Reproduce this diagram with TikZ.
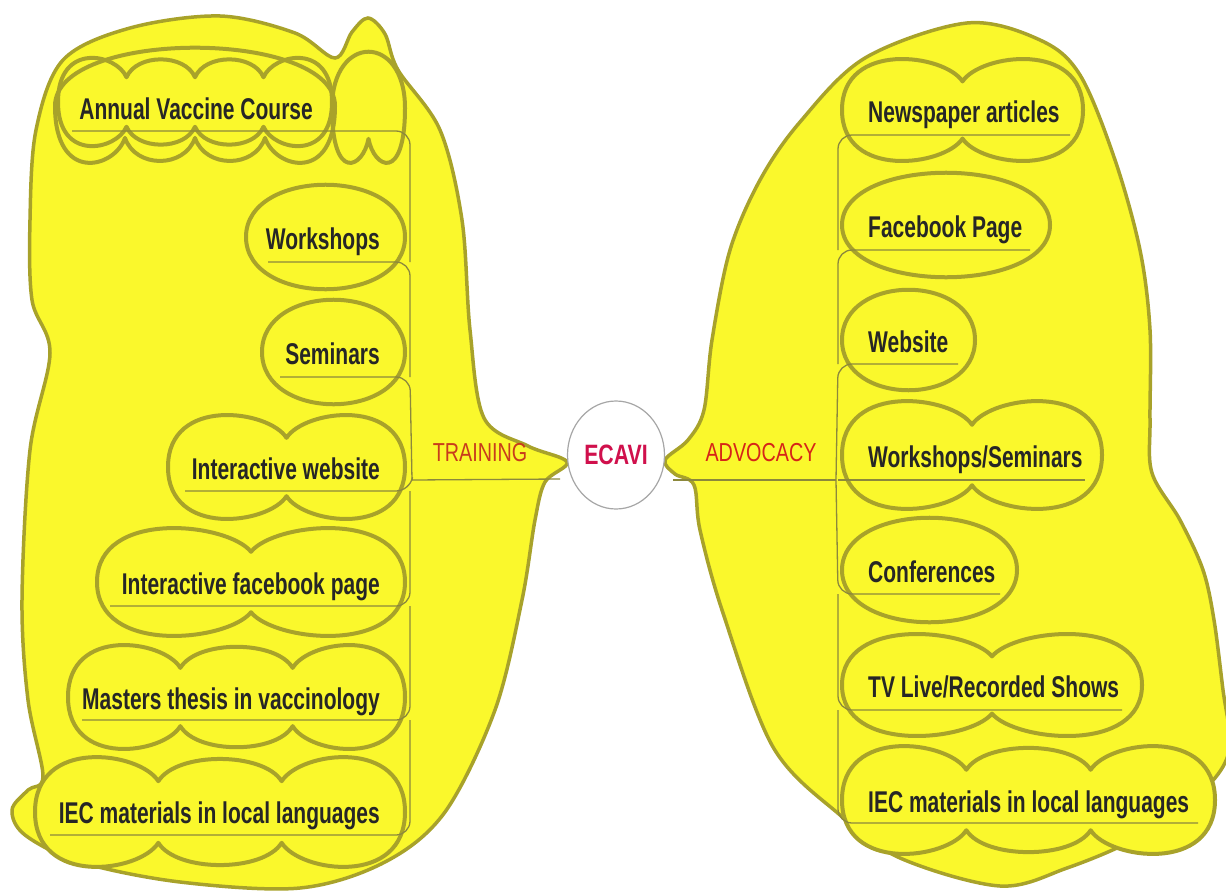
\documentclass[tikz,border=0pt]{standalone}
\usepackage{fontspec}
\usetikzlibrary{shapes.geometric}
\setmainfont{Liberation Sans}[FakeStretch=0.76]
\newfontfamily\itemfont{Liberation Sans Bold}[FakeStretch=0.70]
\definecolor{blobyellow}{HTML}{FAF82C}
\definecolor{cloudolive}{HTML}{A8A22A}
\definecolor{thinline}{HTML}{8C883C}
\definecolor{txt}{HTML}{262626}
\definecolor{trainred}{HTML}{C83C1C}
\definecolor{advred}{HTML}{D62418}
\definecolor{ecavired}{HTML}{D0104C}
\tikzset{
  blob/.style={fill=blobyellow, draw=cloudolive, line width=3.5pt},
  cloudline/.style={draw=cloudolive, line width=4pt, line join=round},
  cloudfill/.style={cloudline, fill=blobyellow},
  branchline/.style={draw=thinline, line width=1.3pt, rounded corners=14pt},
  itemtext/.style={font=\itemfont\fontsize{30}{34}\selectfont, text=txt, inner sep=0pt},
  headtext/.style={font=\fontsize{26}{30}\selectfont, inner sep=0pt},
  hubnode/.style={ellipse, draw=gray!70, line width=1.2pt, fill=white,
                  minimum width=97pt, minimum height=108pt,
                  font=\fontsize{28}{32}\selectfont\bfseries, text=ecavired, inner sep=0pt}
}
% cloud: style, x0, x1, yc, h, ntop, nbot
\newcommand\cloudp[7]{%
  \path[#1] (#2,#4)
    \foreach \i in {1,...,#6}{
      .. controls +({0.15*(#3-#2)/#6*(\i>1)},{-(0.53+0.81*(\i==1))*#5})
         and +({-0.15*(#3-#2)/#6*(\i<#6)},{-(0.53+0.81*(\i==#6))*#5})
      .. ({#2+\i*(#3-#2)/#6},{#4-0.55*#5*(\i<#6)})
    }
    \foreach \i in {1,...,#7}{
      .. controls +({-0.15*(#3-#2)/#7*(\i>1)},{(0.53+0.81*(\i==1))*#5})
         and +({0.15*(#3-#2)/#7*(\i<#7)},{(0.53+0.81*(\i==#7))*#5})
      .. ({#3-\i*(#3-#2)/#7},{#4+0.55*#5*(\i<#7)})
    } -- cycle;
}
\begin{document}
\begin{tikzpicture}[x=1pt,y=-1pt]
\useasboundingbox (0,0) rectangle (1226,894);
\begin{scope}
\clip (0,0) rectangle (1226,894);
% left blob
\draw[blob] plot[smooth cycle, tension=0.55] coordinates {
  (63,60) (130,28) (220,16) (295,33) (335,58) (352,32) (368,18) (385,34) (398,70)
  (440,130) (462,220) (470,330) (484,418) (528,446) (567,462) (545,482) (535,520)
  (522,600) (495,710) (445,812) (385,862) (300,888) (180,882) (80,862) (25,835)
  (12,810) (28,790) (43,776) (28,700) (22,600) (30,450) (50,353) (32,300) (30,220) (36,130)};
% right blob
\draw[blob] plot[smooth cycle, tension=0.55] coordinates {
  (665,460) (688,440) (704,410) (712,340) (730,250) (760,180) (800,122) (865,58)
  (967,23) (1040,40) (1080,75) (1115,160) (1140,250) (1150,330) (1150,420) (1152,473)
  (1180,520) (1203,570) (1214,620) (1223,690) (1230,745) (1215,778) (1180,806)
  (1133,840) (1067,868) (1000,886) (900,858) (840,815) (773,747) (723,613) (700,530)
  (694,485) (675,474)};
\end{scope}

% ---- left clouds
\cloudp{cloudline}{58}{332}{102}{45}{4}{4}
\cloudp{cloudline}{55}{335}{106}{58}{1}{4}
\cloudp{cloudline}{332}{405}{108}{56}{1}{2}
\cloudp{cloudfill}{246}{405}{237}{52}{1}{1}
\cloudp{cloudfill}{262}{405}{352}{52}{1}{1}
\cloudp{cloudfill}{168}{405}{467}{53}{2}{2}
\cloudp{cloudfill}{97}{405}{582}{55}{2}{2}
\cloudp{cloudfill}{68}{405}{697}{53}{3}{3}
\cloudp{cloudfill}{35}{405}{812}{56}{3}{3}
% ---- right clouds
\cloudp{cloudfill}{842}{1083}{110}{52}{2}{2}
\cloudp{cloudfill}{842}{1050}{225}{52}{1}{1}
\cloudp{cloudfill}{842}{975}{340}{50}{1}{1}
\cloudp{cloudfill}{842}{1102}{455}{55}{2}{2}
\cloudp{cloudfill}{842}{1017}{570}{52}{1}{1}
\cloudp{cloudfill}{842}{1142}{685}{52}{2}{2}
\cloudp{cloudfill}{842}{1215}{800}{55}{3}{3}

% ---- left texts
\node[itemtext, anchor=base east] (L1) at (313,119) {Annual Vaccine Course};
\node[itemtext, anchor=base east] (L2) at (380,249) {Workshops};
\node[itemtext, anchor=base east] (L3) at (380,364) {Seminars};
\node[itemtext, anchor=base east] (L4) at (380,479) {Interactive website};
\node[itemtext, anchor=base east] (L5) at (380,594) {Interactive facebook page};
\node[itemtext, anchor=base east] (L6) at (380,709) {Masters thesis in vaccinology};
\node[itemtext, anchor=base east] (L7) at (380,823) {IEC materials in local languages};
% ---- right texts
\node[itemtext, anchor=base west] (R1) at (868,122) {Newspaper articles};
\node[itemtext, anchor=base west] (R2) at (868,237) {Facebook Page};
\node[itemtext, anchor=base west] (R3) at (868,352) {Website};
\node[itemtext, anchor=base west] (R4) at (868,467) {Workshops/Seminars};
\node[itemtext, anchor=base west] (R5) at (868,582) {Conferences};
\node[itemtext, anchor=base west] (R6) at (868,697) {TV Live/Recorded Shows};
\node[itemtext, anchor=base west] (R7) at (868,812) {IEC materials in local languages};

% ---- centre
\node[hubnode] (E) at (616,455) {ECAVI};
\node[headtext, text=trainred] (T) at (480,453) {TRAINING};
\node[headtext, text=advred] (A) at (761,453) {ADVOCACY};

% ---- underline / trunk coordinates, left
\coordinate (L1a) at (72,131);  \coordinate (L1b) at (410,131);
\coordinate (L2a) at (268,262); \coordinate (L2b) at (410,262);
\coordinate (L3a) at (280,377); \coordinate (L3b) at (410,377);
\coordinate (L4a) at (185,491); \coordinate (L4b) at (410,491);
\coordinate (L5a) at (110,606); \coordinate (L5b) at (410,606);
\coordinate (L6a) at (82,720);  \coordinate (L6b) at (410,720);
\coordinate (L7a) at (50,835);  \coordinate (L7b) at (410,835);
\coordinate (Tl) at (412,480);  \coordinate (Tr) at (560,479);
% right
\coordinate (R1a) at (1070,135); \coordinate (R1b) at (838,135);
\coordinate (R2a) at (1030,250); \coordinate (R2b) at (838,250);
\coordinate (R3a) at (958,364);  \coordinate (R3b) at (838,364);
\coordinate (R4a) at (1085,480); \coordinate (R4b) at (838,480);
\coordinate (R5a) at (1000,594); \coordinate (R5b) at (838,594);
\coordinate (R6a) at (1122,710); \coordinate (R6b) at (838,710);
\coordinate (R7a) at (1198,823); \coordinate (R7b) at (838,823);
\coordinate (Ar) at (836,480);   \coordinate (Al) at (673,480);

% left underlines curving into the trunk
\draw[branchline] (L1a) -- (L1b) -- (L2b);
\draw[branchline] (L2a) -- (L2b) -- (L3b);
\draw[branchline] (L3a) -- (L3b) -- (Tl);
\draw[branchline] (L4a) -- (L4b) -- (Tl);
\draw[branchline] (L5a) -- (L5b) -- (L4b);
\draw[branchline] (L6a) -- (L6b) -- (L5b);
\draw[branchline] (L7a) -- (L7b) -- (L6b);
\draw[branchline] (Tl) -- (Tr);
% right underlines curving into the trunk
\draw[branchline] (R1a) -- (R1b) -- (R2b);
\draw[branchline] (R2a) -- (R2b) -- (R3b);
\draw[branchline] (R3a) -- (R3b) -- (Ar);
\draw[branchline] (R4a) -- (R4b);
\draw[branchline] (R5a) -- (R5b) -- (Ar);
\draw[branchline] (R6a) -- (R6b) -- (R5b);
\draw[branchline] (R7a) -- (R7b) -- (R6b);
\draw[branchline] (Ar) -- (Al);
\end{tikzpicture}
\end{document}
